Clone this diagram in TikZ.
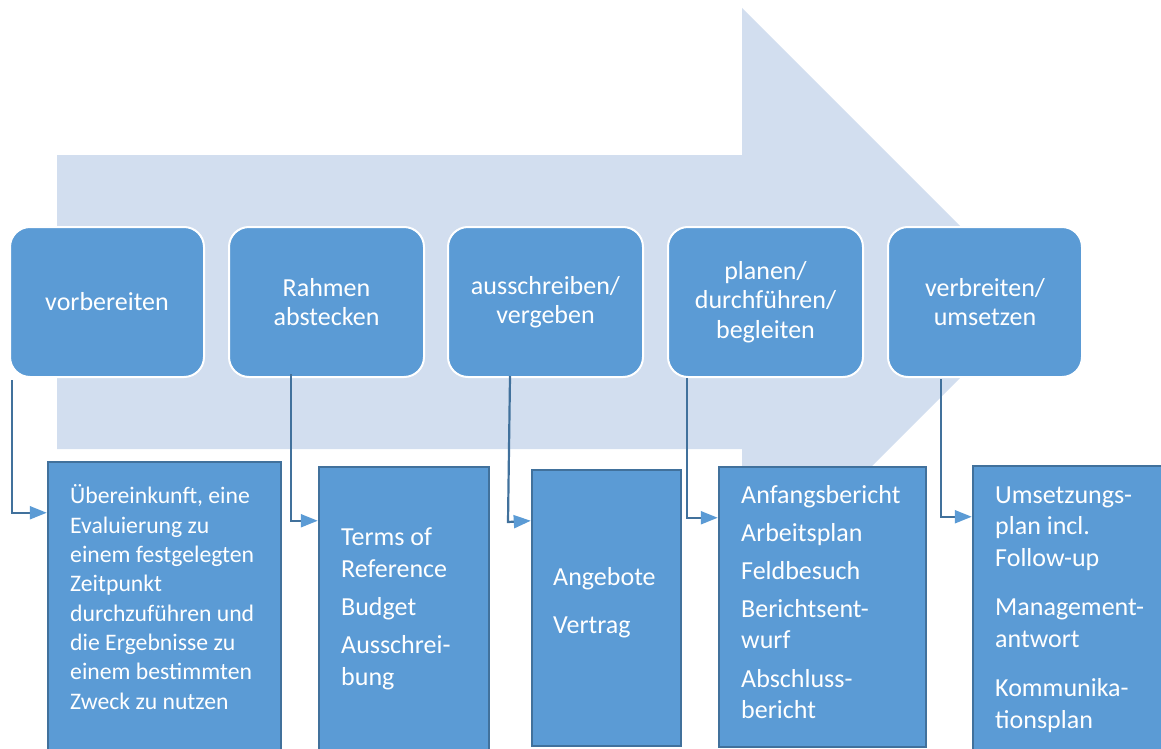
\documentclass[tikz,border=0pt]{standalone}
\usepackage{fontspec}
\setmainfont{Carlito}
\usetikzlibrary{arrows.meta,calc}
\definecolor{bgarrow}{RGB}{210,222,239}
\definecolor{boxblue}{RGB}{91,155,213}
\definecolor{edgeblue}{RGB}{65,113,156}
\begin{document}
\begin{tikzpicture}[x=1pt,y=-1pt,
 phase/.style={draw=white, line width=2pt, fill=boxblue, rounded corners=20pt, text=white, align=center, font=\fontsize{26}{29.5}\selectfont, inner sep=0pt},
 outbox/.style={draw=edgeblue, line width=2.5pt, fill=boxblue, inner sep=0pt},
 outtext/.style={text=white, align=left, anchor=base west, inner sep=0pt, font=\fontsize{26}{32}\selectfont},
 conn/.style={draw=edgeblue, line width=2.2pt, -{Triangle[length=17pt,width=13pt,color=boxblue]}}
]
\useasboundingbox (0,0) rectangle (1161,749);
\clip (0,0) rectangle (1161,749);
% big background arrow
\fill[bgarrow] (57,155) -- (742,155) -- (742,8) -- (1036,302) -- (742,596) -- (742,449) -- (57,449) -- cycle;
% phase boxes
\node[phase, minimum width=194pt, minimum height=150pt] (t1) at (107,302) {vorbereiten};
\node[phase, minimum width=195pt, minimum height=150pt] (t2) at (326.5,302) {Rahmen\\abstecken};
\node[phase, minimum width=195pt, minimum height=150pt] (t3) at (545.5,302) {ausschreiben/\\vergeben};
\node[phase, minimum width=195pt, minimum height=150pt] (t4) at (765.5,302) {planen/\\durchführen/\\begleiten};
\node[phase, minimum width=194pt, minimum height=150pt] (t5) at (985,302) {verbreiten/\\umsetzen};
% output boxes
\node[outbox, minimum width=233pt, minimum height=290pt] (b1) at (164.5,607) {};
\node[outbox, minimum width=170pt, minimum height=285pt] (b2) at (404,609.5) {};
\node[outbox, minimum width=149pt, minimum height=276pt] (b3) at (606.5,608) {};
\node[outbox, minimum width=207pt, minimum height=280pt] (b4) at (822.5,607) {};
\node[outbox, minimum width=202pt, minimum height=286pt] (b5) at (1074,609) {};
% texts (anchored at the baseline of their last line)
\node[outtext, font=\fontsize{23.7}{29.3}\selectfont] (x1) at (70,709) {Übereinkunft, eine\\Evaluierung zu\\einem festgelegten\\Zeitpunkt\\durchzuführen und\\die Ergebnisse zu\\einem bestimmten\\Zweck zu nutzen};
\node[outtext] (x2) at (341,685) {Terms of\\Reference\\[6pt]Budget\\[6pt]Ausschrei-\\bung};
\node[outtext] (x3) at (553,633) {Angebote\\[16pt]Vertrag};
\node[outtext, font=\fontsize{26}{31}\selectfont] (x4) at (741,718) {Anfangsbericht\\[7pt]Arbeitsplan\\[7pt]Feldbesuch\\[7pt]Berichtsent-\\wurf\\[8pt]Abschluss-\\bericht};
\node[outtext, font=\fontsize{26}{31.5}\selectfont] (x5) at (995,728) {Umsetzungs-\\plan incl.\\Follow-up\\[18pt]Management-\\antwort\\[18pt]Kommunika-\\tionsplan};
% connectors
\draw[conn] ($(t1.south west)+(3,2)$) |- ($(b1.north west)+(0,52)$);
\draw[conn] ($(t2.south west)+(63,-4)$) |- ($(b2.north west)+(0,55)$);
\coordinate (k3) at (508,522);
\draw[conn] ($(t3.south west)+(63,-2)$) -- (k3) -- ($(b3.north west)+(0,52)$);
\draw[conn] ($(t4.south west)+(20,0)$) |- ($(b4.north west)+(0,52)$);
\draw[conn] ($(t5.south west)+(54,1)$) |- ($(b5.north west)+(0,52)$);
\end{tikzpicture}
\end{document}
